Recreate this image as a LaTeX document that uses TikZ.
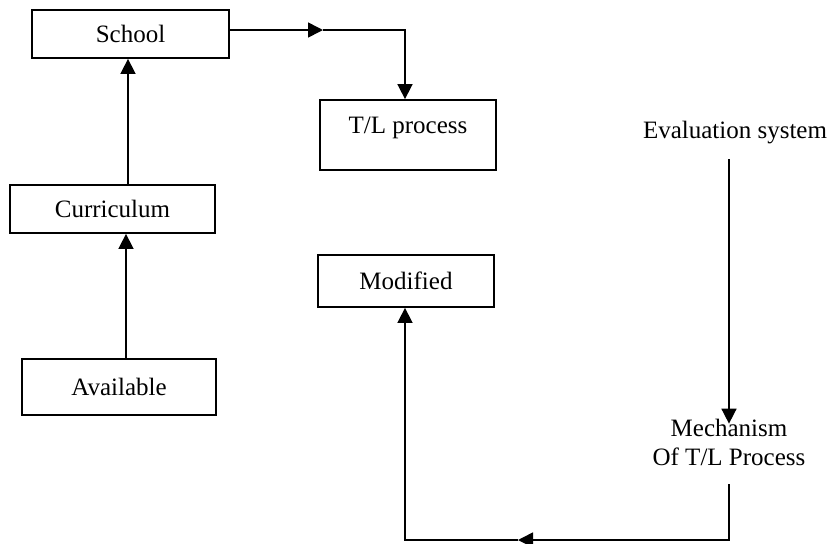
\documentclass[tikz,border=0pt]{standalone}
\usepackage{fontspec}
\setmainfont{Liberation Serif}
\usetikzlibrary{arrows.meta,calc,positioning}
\tikzset{
    block/.style = {draw, rectangle, line width=0.9pt,
        minimum height=24pt, align=center},
    txt/.style = {align=center},
    arrow/.style = {draw, line width=0.8pt, -{Triangle[length=7.5pt,width=7.5pt]}}
}
\begin{document}
\begin{tikzpicture}[auto, node distance=2cm, font=\fontsize{12.5}{14.5}\selectfont]
    \useasboundingbox (0,0) rectangle (413.5pt,-271.5pt);
    % left column
    \node [block, minimum width=98.5pt] (school) at (65.25pt,-17pt) {School};
    \node [block, below of=school, node distance=87.5pt, xshift=-9pt, minimum width=102.5pt] (curr) {Curriculum};
    \node [block, below of=curr, node distance=89pt, xshift=3.25pt, minimum width=97pt, minimum height=28pt] (avail) {Available};
    \draw [arrow] ([xshift=3.5pt]avail.north) -- ([xshift=3.5pt]avail.north |- curr.south);
    \draw [arrow] ([xshift=-1.25pt]school.south |- curr.north) -- ([xshift=-1.25pt]school.south);
    % middle column
    \node [block, minimum width=88pt, text height=12.5pt, text depth=14.5pt, inner ysep=4pt] (tl) at (204pt,-67.5pt) {T/L process};
    \node [block, below of=tl, node distance=73pt, xshift=-1pt, minimum width=88pt, minimum height=26pt] (mod) {Modified};
    \coordinate (top) at (161.5pt,-15pt);
    \draw [arrow] ([yshift=2pt]school.east) -- (top);
    \draw [arrow] (top) -| ([xshift=-1.5pt]tl.north);
    % right column
    \node [txt] (eval) at (367.5pt,-66.5pt) {Evaluation system};
    \node [txt] (mech) at (364.5pt,-221pt) {Mechanism\\ Of T/L Process};
    \draw [arrow, shorten <=4pt, shorten >=-6pt] (eval.south -| mech.north) -- (mech.north);
    \coordinate (bot) at (259pt,-270pt);
    \draw [arrow, shorten <=6pt] (mech.south) -- (mech.south |- bot) -- (bot);
    \draw [arrow] (bot) -| ([xshift=-0.5pt]mod.south);
\end{tikzpicture}
\end{document}
